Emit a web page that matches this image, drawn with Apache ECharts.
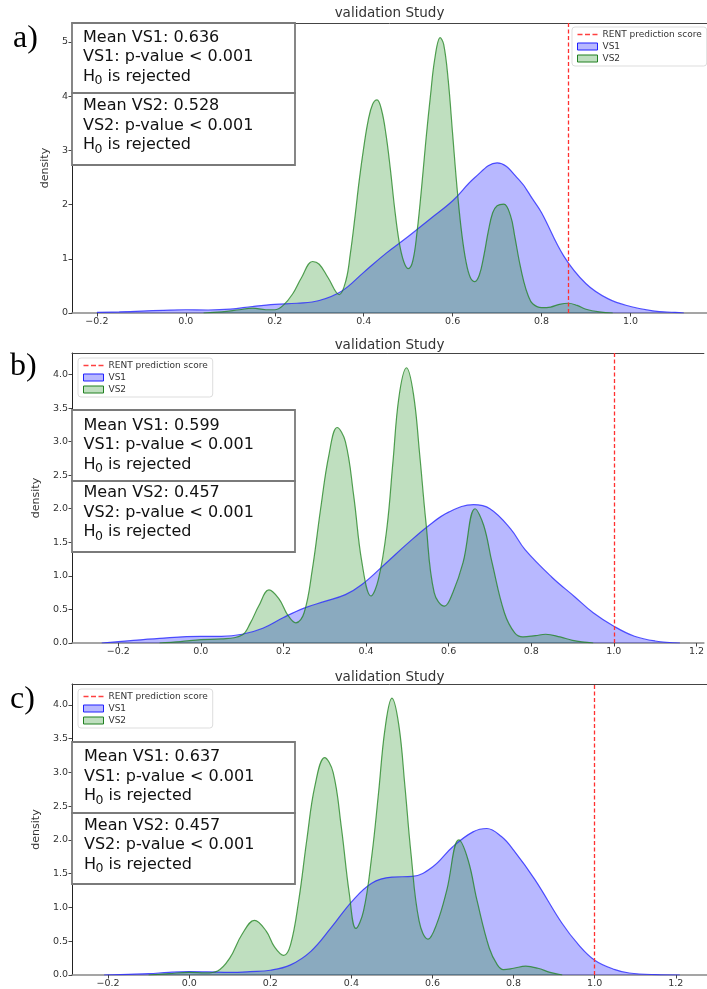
<!DOCTYPE html>
<html>
<head>
<meta charset="utf-8">
<script src="https://cdn.jsdelivr.net/npm/echarts@6/dist/echarts.min.js"></script>
<style>
  html, body { margin: 0; padding: 0; background: #fff; }
  #chart { width: 707px; height: 989px; }
</style>
</head>
<body>
<div id="chart"></div>
<script>
// panel a) kde curves
const aVs1X = [-0.2, -0.15, -0.1, -0.05, 0, 0.05, 0.1, 0.15, 0.2, 0.25, 0.3, 0.35, 0.4, 0.45, 0.5, 0.55, 0.6, 0.65, 0.7, 0.75, 0.78, 0.8, 0.85, 0.9, 0.95, 1.0, 1.05, 1.1, 1.12]
const aVs1Y = [0.01, 0.02, 0.035, 0.05, 0.06, 0.055, 0.07, 0.12, 0.16, 0.18, 0.23, 0.40, 0.75, 1.10, 1.41, 1.74, 2.07, 2.5, 2.77, 2.45, 2.1, 1.85, 1.05, 0.54, 0.26, 0.12, 0.04, 0.01, 0]
const aVs2X = [0.04, 0.08, 0.12, 0.15, 0.18, 0.2, 0.22, 0.24, 0.26, 0.285, 0.3, 0.32, 0.345, 0.36, 0.37, 0.38, 0.39, 0.4, 0.41, 0.42, 0.43, 0.44, 0.45, 0.46, 0.47, 0.48, 0.49, 0.5, 0.51, 0.52, 0.53, 0.54, 0.55, 0.56, 0.572, 0.58, 0.59, 0.6, 0.61, 0.62, 0.63, 0.64, 0.65, 0.66, 0.67, 0.68, 0.69, 0.7, 0.715, 0.73, 0.74, 0.75, 0.76, 0.77, 0.78, 0.8, 0.82, 0.84, 0.86, 0.88, 0.9, 0.93, 0.96]
const aVs2Y = [0, 0.02, 0.06, 0.09, 0.06, 0.06, 0.15, 0.35, 0.65, 0.95, 0.9, 0.65, 0.34, 0.6, 1.1, 1.75, 2.45, 3.05, 3.55, 3.85, 3.93, 3.75, 3.3, 2.65, 1.9, 1.3, 0.95, 0.82, 0.95, 1.5, 2.3, 3.2, 4.0, 4.7, 5.08, 4.95, 4.3, 3.3, 2.3, 1.5, 0.95, 0.65, 0.58, 0.7, 1.05, 1.5, 1.85, 1.98, 2.01, 1.8, 1.4, 0.95, 0.58, 0.32, 0.17, 0.10, 0.11, 0.16, 0.18, 0.14, 0.07, 0.02, 0]

// panel b)
const bVs1X = [-0.24, -0.2, -0.1, 0, 0.05, 0.1, 0.15, 0.2, 0.25, 0.3, 0.35, 0.39, 0.45, 0.5, 0.55, 0.6, 0.66, 0.7, 0.75, 0.785, 0.85, 0.905, 0.95, 1.0, 1.05, 1.1, 1.16]
const bVs1Y = [0, 0.02, 0.07, 0.1, 0.1, 0.13, 0.22, 0.38, 0.52, 0.62, 0.72, 0.87, 1.2, 1.48, 1.74, 1.95, 2.06, 2.0, 1.7, 1.39, 0.98, 0.69, 0.45, 0.25, 0.1, 0.03, 0]
const bVs2X = [-0.1, -0.05, 0, 0.05, 0.1, 0.12, 0.14, 0.165, 0.19, 0.21, 0.23, 0.25, 0.27, 0.29, 0.31, 0.33, 0.35, 0.37, 0.39, 0.412, 0.43, 0.45, 0.465, 0.48, 0.498, 0.515, 0.53, 0.545, 0.565, 0.59, 0.61, 0.635, 0.664, 0.685, 0.705, 0.735, 0.76, 0.78, 0.81, 0.835, 0.87, 0.9, 0.95]
const bVs2Y = [0, 0.02, 0.05, 0.06, 0.12, 0.3, 0.55, 0.79, 0.65, 0.42, 0.3, 0.45, 1.1, 2.0, 2.8, 3.21, 3.0, 2.2, 1.2, 0.70, 0.95, 1.69, 2.69, 3.68, 4.10, 3.7, 2.8, 1.8, 0.75, 0.55, 0.75, 1.2, 2.0, 1.75, 1.2, 0.45, 0.15, 0.09, 0.11, 0.13, 0.09, 0.04, 0]

// panel c)
const cVs1X = [-0.21, -0.15, -0.1, -0.05, 0, 0.05, 0.1, 0.15, 0.2, 0.25, 0.3, 0.35, 0.4, 0.45, 0.5, 0.55, 0.6, 0.65, 0.7, 0.734, 0.77, 0.8, 0.853, 0.919, 0.96, 1.0, 1.05, 1.085, 1.15, 1.21]
const cVs1Y = [0, 0.01, 0.02, 0.04, 0.05, 0.045, 0.04, 0.05, 0.07, 0.15, 0.35, 0.7, 1.08, 1.36, 1.45, 1.46, 1.6, 1.9, 2.12, 2.17, 2.05, 1.85, 1.41, 0.77, 0.45, 0.22, 0.08, 0.03, 0.005, 0]
const cVs2X = [-0.1, -0.05, 0, 0.04, 0.07, 0.1, 0.13, 0.161, 0.19, 0.21, 0.233, 0.25, 0.27, 0.29, 0.31, 0.334, 0.355, 0.375, 0.395, 0.411, 0.43, 0.45, 0.467, 0.483, 0.5, 0.517, 0.532, 0.547, 0.567, 0.589, 0.61, 0.635, 0.665, 0.688, 0.71, 0.74, 0.76, 0.775, 0.8, 0.83, 0.86, 0.89, 0.92]
const cVs2Y = [0, 0.02, 0.04, 0.03, 0.06, 0.25, 0.6, 0.81, 0.65, 0.42, 0.29, 0.45, 1.1, 2.0, 2.8, 3.22, 3.0, 2.2, 1.2, 0.69, 0.95, 1.75, 2.7, 3.65, 4.10, 3.7, 2.8, 1.8, 0.8, 0.53, 0.75, 1.25, 2.0, 1.7, 1.1, 0.4, 0.15, 0.08, 0.1, 0.13, 0.1, 0.04, 0]

// RENT prediction score per panel
const rentScores = [0.858, 1.0, 1.0]

// tick labels
const xTicksA = [-0.2, 0, 0.2, 0.4, 0.6, 0.8, 1.0]
const xTicksBC = [-0.2, 0, 0.2, 0.4, 0.6, 0.8, 1.0, 1.2]
const yTicksA = [0, 1, 2, 3, 4, 5]
const yTicksBC = [0, 0.5, 1, 1.5, 2, 2.5, 3, 3.5, 4]

// stat box texts
const means = [['0.636', '0.528'], ['0.599', '0.457'], ['0.637', '0.457']]

const FONT = 'DejaVu Sans'
const zip = (xs, ys) => xs.map((x, i) => [x, ys[i]])
const fmt1 = v => (v < 0 ? '\u2212' : '') + Math.abs(v).toFixed(1)
const fmt0 = v => String(v)

// layout per panel (pixels)
const panels = [
  { top: 23, height: 290, xMin: -0.256, xMax: 1.172, yMax: 5.35, xTicks: xTicksA, yTicks: yTicksA, yFmt: fmt0, nameGap: 14,
    vs1: zip(aVs1X, aVs1Y), vs2: zip(aVs2X, aVs2Y), legend: { left: 572, top: 27 } },
  { top: 353, height: 290, xMin: -0.312, xMax: 1.218, yMax: 4.32, xTicks: xTicksBC, yTicks: yTicksBC, yFmt: fmt1, nameGap: 22,
    vs1: zip(bVs1X, bVs1Y), vs2: zip(bVs2X, bVs2Y), legend: { left: 78, top: 358 } },
  { top: 684, height: 291, xMin: -0.289, xMax: 1.277, yMax: 4.31, xTicks: xTicksBC, yTicks: yTicksBC, yFmt: fmt1, nameGap: 22,
    vs1: zip(cVs1X, cVs1Y), vs2: zip(cVs2X, cVs2Y), legend: { left: 78, top: 689 } }
]

const grid = [], xAxis = [], yAxis = [], series = [], legend = []
const dashIcon = 'path://M0,0M20,7M0,2.8h5v1.4h-5zM7.5,2.8h5v1.4h-5zM15,2.8h5v1.4h-5z'

panels.forEach((p, i) => {
  grid.push({ left: 72, right: 0, top: p.top, height: p.height })
  xAxis.push({
    type: 'value', gridIndex: i, min: p.xMin, max: p.xMax,
    axisLine: { show: true, onZero: false, lineStyle: { color: '#888', width: 1.5 } },
    axisTick: { show: true, length: 3.5, customValues: p.xTicks, lineStyle: { color: '#444' } },
    axisLabel: { customValues: p.xTicks, formatter: fmt1, fontSize: 9.5, color: '#333', margin: 4, fontFamily: FONT },
    splitLine: { show: false }
  })
  xAxis.push({
    type: 'value', gridIndex: i, position: 'top', min: p.xMin, max: p.xMax,
    axisLine: { show: true, onZero: false, lineStyle: { color: '#444', width: 1 } },
    axisTick: { show: false }, axisLabel: { show: false }, splitLine: { show: false }
  })
  yAxis.push({
    type: 'value', gridIndex: i, min: 0, max: p.yMax,
    name: 'density', nameLocation: 'middle', nameGap: p.nameGap,
    nameTextStyle: { fontSize: 11, color: '#333', fontFamily: FONT },
    axisLine: { show: true, onZero: false, lineStyle: { color: '#222', width: 1 } },
    axisTick: { show: true, length: 3.5, customValues: p.yTicks, lineStyle: { color: '#444' } },
    axisLabel: { customValues: p.yTicks, formatter: p.yFmt, fontSize: 9.5, color: '#333', margin: 4, fontFamily: FONT },
    splitLine: { show: false }
  })
  series.push({
    name: 'VS1', type: 'line', xAxisIndex: i * 2, yAxisIndex: i, data: p.vs1,
    smooth: 0.4, symbol: 'none', silent: true,
    itemStyle: { color: '#0000ff' },
    lineStyle: { color: 'rgba(40,40,255,0.8)', width: 1.2 },
    areaStyle: { color: 'rgba(0,0,255,0.28)', opacity: 1 }
  })
  series.push({
    name: 'VS2', type: 'line', xAxisIndex: i * 2, yAxisIndex: i, data: p.vs2,
    smooth: 0.4, symbol: 'none', silent: true,
    itemStyle: { color: '#008000' },
    lineStyle: { color: 'rgba(30,130,30,0.75)', width: 1.2 },
    areaStyle: { color: 'rgba(0,128,0,0.25)', opacity: 1 }
  })
  series.push({
    name: 'RENT prediction score', type: 'line', xAxisIndex: i * 2, yAxisIndex: i, data: [],
    symbol: 'none', itemStyle: { color: '#ff0000' },
    lineStyle: { color: '#ff0000', type: [4, 2.5], width: 1.3 },
    markLine: {
      silent: true, symbol: ['none', 'none'], label: { show: false },
      lineStyle: { color: '#ff3030', type: [4, 2.5], width: 1.3 },
      data: [{ xAxis: rentScores[i] }]
    }
  })
  legend.push({
    orient: 'vertical', left: p.legend.left, top: p.legend.top,
    itemWidth: 20, itemHeight: 7, itemGap: 3, padding: [3, 5],
    backgroundColor: '#fff', borderColor: '#ddd', borderWidth: 1, borderRadius: 3,
    textStyle: { fontSize: 9, color: '#333', fontFamily: FONT },
    selectedMode: false,
    data: [
      { name: 'RENT prediction score', icon: dashIcon, itemStyle: { color: '#ff4040', borderWidth: 0 } },
      { name: 'VS1', icon: 'rect', itemStyle: { color: 'rgba(0,0,255,0.28)', borderColor: '#2020ff', borderWidth: 1 } },
      { name: 'VS2', icon: 'rect', itemStyle: { color: 'rgba(0,128,0,0.25)', borderColor: '#208020', borderWidth: 1 } }
    ]
  })
})

// annotation boxes: [boxTop1, boxH1, boxTop2, boxH2, textY1, textY2, textX]
const boxes = [
  [23, 70, 93, 72, 37.7, 106, 83],
  [410, 71, 481, 71, 425.7, 493.3, 83.5],
  [742, 71, 813, 71, 757.3, 825.7, 84]
]
const graphic = []
const txt = (x, y, s, size, extra) => ({
  type: 'text', x: x, y: y, z: 101, silent: true,
  style: Object.assign({ text: s, fill: '#111', font: size + 'px "' + FONT + '"', verticalAlign: 'middle' }, extra || {})
})
boxes.forEach((b, i) => {
  const [t1, h1, t2, h2, ty1, ty2, tx] = b
  ;[[t1, h1, ty1, 'VS1', means[i][0]], [t2, h2, ty2, 'VS2', means[i][1]]].forEach(([t, h, ty, name, m]) => {
    graphic.push({ type: 'rect', z: 100, silent: true, shape: { x: 72, y: t, width: 223, height: h },
      style: { fill: '#fff', stroke: '#7a7a7a', lineWidth: 1.8 } })
    graphic.push(txt(tx, ty, 'Mean ' + name + ': ' + m, 16))
    graphic.push(txt(tx, ty + 19.5, name + ': p-value < 0.001', 16))
    graphic.push(txt(tx, ty + 39, 'H', 16))
    graphic.push(txt(tx + 11.5, ty + 43.5, '0', 12.5))
    graphic.push(txt(tx + 19.5, ty + 39, ' is rejected', 16))
  })
})
// titles and panel letters
const titleY = [13, 345, 677]
const letters = [['a)', 13, 39], ['b)', 10, 367], ['c)', 10, 700]]
titleY.forEach(y => graphic.push(txt(389.5, y, 'validation Study', 13.5, { fill: '#333', align: 'center' })))
letters.forEach(([s, x, y]) => graphic.push(txt(x, y, s, 32, { fill: '#000', font: '32px "Liberation Serif"' })))

const chart = echarts.init(document.getElementById('chart'))
chart.setOption({
  animation: false,
  backgroundColor: '#fff',
  textStyle: { fontFamily: FONT },
  grid: grid,
  xAxis: xAxis,
  yAxis: yAxis,
  legend: legend,
  series: series,
  graphic: graphic
})
</script>
</body>
</html>
